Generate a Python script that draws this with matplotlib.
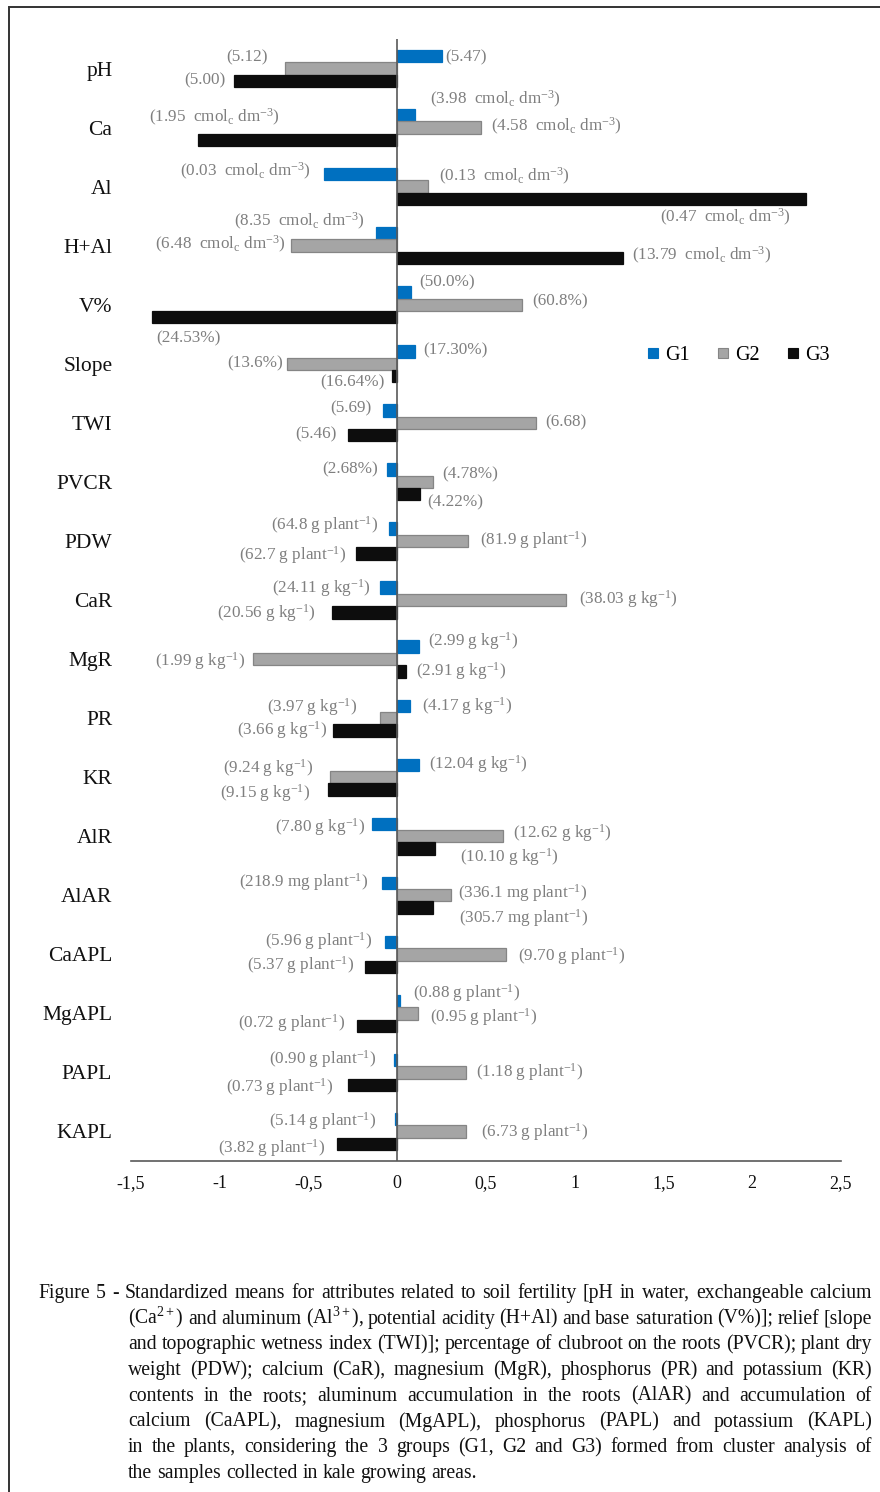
import matplotlib
matplotlib.use("Agg")
import matplotlib.pyplot as plt
from matplotlib.lines import Line2D
from matplotlib.patches import Rectangle

plt.rcParams['font.family'] = ['Liberation Serif', 'DejaVu Serif']
plt.rcParams['mathtext.fontset'] = 'custom'
plt.rcParams['mathtext.rm'] = 'Liberation Serif'
plt.rcParams['mathtext.it'] = 'Liberation Serif:italic'
plt.rcParams['mathtext.bf'] = 'Liberation Serif:bold'

attributes = ["pH", "Ca", "Al", "H+Al", "V%", "Slope", "TWI", "PVCR", "PDW", "CaR",
              "MgR", "PR", "KR", "AlR", "AlAR", "CaAPL", "MgAPL", "PAPL", "KAPL"]
units = ["", "cmol", "cmol", "cmol", "%", "%", "", "%", "g plant", "g kg",
         "g kg", "g kg", "g kg", "g kg", "mg plant", "g plant", "g plant", "g plant", "g plant"]
groups = ["G1", "G2", "G3"]

# standardized means
g1 = [0.25, 0.10, -0.41, -0.12, 0.08, 0.10, -0.08, -0.055, -0.045, -0.10,
      0.12, 0.07, 0.125, -0.14, -0.085, -0.07, 0.015, -0.02, -0.01]
g2 = [-0.63, 0.47, 0.175, -0.60, 0.70, -0.62, 0.78, 0.20, 0.40, 0.95,
      -0.815, -0.095, -0.38, 0.595, 0.30, 0.61, 0.115, 0.39, 0.39]
g3 = [-0.92, -1.12, 2.30, 1.27, -1.38, -0.03, -0.28, 0.13, -0.23, -0.37,
      0.05, -0.36, -0.39, 0.21, 0.20, -0.18, -0.225, -0.28, -0.34]

# original (unstandardized) means written beside the bars
g1_raw = ["5.47", "3.98", "0.03", "8.35", "50.0", "17.30", "5.69", "2.68", "64.8", "24.11",
          "2.99", "4.17", "12.04", "7.80", "218.9", "5.96", "0.88", "0.90", "5.14"]
g2_raw = ["5.12", "4.58", "0.13", "6.48", "60.8", "13.6", "6.68", "4.78", "81.9", "38.03",
          "1.99", "3.97", "9.24", "12.62", "336.1", "9.70", "0.95", "1.18", "6.73"]
g3_raw = ["5.00", "1.95", "0.47", "13.79", "24.53", "16.64", "5.46", "4.22", "62.7", "20.56",
          "2.91", "3.66", "9.15", "10.10", "305.7", "5.37", "0.72", "0.73", "3.82"]

xticks = [-1.5, -1, -0.5, 0, 0.5, 1, 1.5, 2, 2.5]

# where each value label sits: pixel offset from the bar end (dx right, dy down) and side
g1_pos = [(3.6, 1.4, 'l'), (15, -15.6, 'l'), (-13.2, -2.6, 'r'), (-10.7, -11.6, 'r'),
          (7.8, -9.6, 'l'), (8.2, -0.6, 'l'), (-11.5, -1.6, 'r'), (-9.2, -0.6, 'r'),
          (-10.7, -3.6, 'r'), (-8.5, 0.4, 'r'), (9, -5.6, 'l'), (11.9, 0.4, 'l'),
          (9.1, -0.6, 'l'), (-7.4, 3.4, 'r'), (-13.6, -0.6, 'r'), (-12.9, -0.6, 'r'),
          (13.3, -7.6, 'l'), (-17.7, -0.6, 'r'), (-19.5, 2.4, 'r')]
g2_pos = [(-17.2, -11, 'r'), (10.6, -1, 'l'), (10.2, -10, 'l'), (-4.5, -1, 'r'),
          (10.7, -3, 'l'), (-4.2, 0, 'r'), (9.2, 0, 'l'), (9.8, -8, 'l'),
          (12, -1, 'l'), (12.7, -1, 'l'), (-7.6, 2, 'r'), (-23.4, -11, 'r'),
          (-16.8, -9, 'r'), (9.7, -3, 'l'), (8, -2, 'l'), (12, 2, 'l'),
          (12.3, 4, 'l'), (9.5, 0, 'l'), (14.5, 1, 'l')]
g3_pos = [(-8.7, -0.4, 'r'), (81.8, -22.4, 'r'), (-14.5, 18.6, 'r'), (9.6, -2.4, 'l'),
          (3.6, 21.6, 'l'), (-7.7, 6.6, 'r'), (-11, -0.4, 'r'), (7.2, 7.6, 'l'),
          (-10.5, 1.6, 'r'), (-15.6, 0.6, 'r'), (9.8, -0.4, 'l'), (-6.4, -0.4, 'r'),
          (-17.8, 3.6, 'r'), (25.4, 8.6, 'l'), (25.8, 10.6, 'l'), (-11, -1.4, 'r'),
          (-12.4, -2.4, 'r'), (-14.3, 2.6, 'r'), (-12, 4.6, 'r')]

caption = [
    "Figure 5 - Standardized means for attributes related to soil fertility [pH in water, exchangeable calcium",
    "(Ca$^{2+}$) and aluminum (Al$^{3+}$), potential acidity (H+Al) and base saturation (V%)]; relief [slope",
    "and topographic wetness index (TWI)]; percentage of clubroot on the roots (PVCR); plant dry",
    "weight (PDW); calcium (CaR), magnesium (MgR), phosphorus (PR) and potassium (KR)",
    "contents in the roots; aluminum accumulation in the roots (AlAR) and accumulation of",
    "calcium (CaAPL), magnesium (MgAPL), phosphorus (PAPL) and potassium (KAPL)",
    "in the plants, considering the 3 groups (G1, G2 and G3) formed from cluster analysis of",
    "the samples collected in kale growing areas.",
]


def value_text(v, unit):
    if unit == "cmol":
        return "(" + v + "  cmol$_\\mathrm{c}$ dm$^{-3}$)"
    if unit == "%":
        return "(" + v + "%)"
    if unit == "":
        return "(" + v + ")"
    return "(" + v + " " + unit + "$^{-1}$)"


W, H = 880, 1492
fig = plt.figure(figsize=(W / 100, H / 100), dpi=100)
ax = fig.add_axes([131 / W, 1 - 1161 / H, 710 / W, 1122 / H])

colors = ["#0070C0", "#A5A5A5", "#0D0D0D"]
edges = ["#0070C0", "#858585", "#0D0D0D"]
bar_h = 0.21
offsets = [-bar_h, 0, bar_h]
ypos = list(range(len(attributes)))

for vals, raw, pos, off, col, ec in zip([g1, g2, g3], [g1_raw, g2_raw, g3_raw],
                                        [g1_pos, g2_pos, g3_pos], offsets, colors, edges):
    yy = [y + off for y in ypos]
    ax.barh(yy, vals, height=bar_h, color=col, edgecolor=ec, linewidth=0.9)
    for v, r, u, y, (dx, dy, side) in zip(vals, raw, units, yy, pos):
        ax.annotate(value_text(r, u), xy=(v, y), xytext=(dx, -dy), textcoords='offset pixels',
                    ha='left' if side == 'l' else 'right', va='center',
                    fontsize=12.3, color="#7F7F7F")

ax.axvline(0, color="#595959", lw=1.2)
ax.set_xlim(-1.5, 2.5)
ax.set_ylim(len(attributes) - 0.5, -0.5)
ax.set_yticks(ypos)
ax.set_yticklabels(attributes, fontsize=15.5, color="#111111")
ax.set_xticks(xticks)
ax.set_xticklabels([("%g" % t).replace(".", ",") for t in xticks], fontsize=13, color="#111111")
ax.tick_params(axis='y', length=0, pad=13.5)
ax.tick_params(axis='x', length=0, pad=10)
for s in ["top", "right", "left"]:
    ax.spines[s].set_visible(False)
ax.spines["bottom"].set_color("#595959")
ax.spines["bottom"].set_linewidth(1.2)

handles = [Line2D([], [], marker='s', ls='none', markersize=7.5, markerfacecolor=c,
                  markeredgecolor=e, markeredgewidth=0.8) for c, e in zip(colors, edges)]
fig.legend(handles, groups, loc='center left', bbox_to_anchor=(646 / W, 1 - 355 / H),
           ncol=3, frameon=False, fontsize=14.5, handlelength=0.7, handletextpad=0.25,
           columnspacing=1.3, borderpad=0, borderaxespad=0)

# frame around the figure
fig.add_artist(Rectangle((9 / W, -0.05), 1.2, 1.05 - 7 / H, transform=fig.transFigure,
                         fill=False, edgecolor="#333333", lw=1.4))

# justified caption, font size chosen so the tightest line still keeps normal-ish spaces
fig.canvas.draw()
renderer = fig.canvas.get_renderer()
right = 872
line_gap = 25.7
first_base = 1298


def width_of(word, size):
    t = fig.text(0, 0, word, fontsize=size)
    w = t.get_window_extent(renderer).width
    t.remove()
    return w


def line_gaps(size):
    out = []
    for i, line in enumerate(caption[:-1]):
        left = 38 if i == 0 else 128
        words = line.split(" ")
        total = sum(width_of(w, size) for w in words)
        out.append((right - left - total) / (len(words) - 1))
    return out


cap_size = 15.5
while cap_size > 11:
    sp = width_of("a b", cap_size) - width_of("ab", cap_size)
    if min(line_gaps(cap_size)) >= 0.75 * sp:
        break
    cap_size -= 0.25

space_w = width_of("a b", cap_size) - width_of("ab", cap_size)
for i, line in enumerate(caption):
    left = 38 if i == 0 else 128
    words = line.split(" ")
    widths = [width_of(w, cap_size) for w in words]
    if i < len(caption) - 1 and len(words) > 1:
        gap = (right - left - sum(widths)) / (len(words) - 1)
    else:
        gap = space_w
    x = left
    y = 1 - (first_base + i * line_gap) / H
    for w, wd in zip(words, widths):
        fig.text(x / W, y, w, fontsize=cap_size, color="#111111", va='baseline')
        x += wd + gap

fig.savefig("out.png", dpi=100)
